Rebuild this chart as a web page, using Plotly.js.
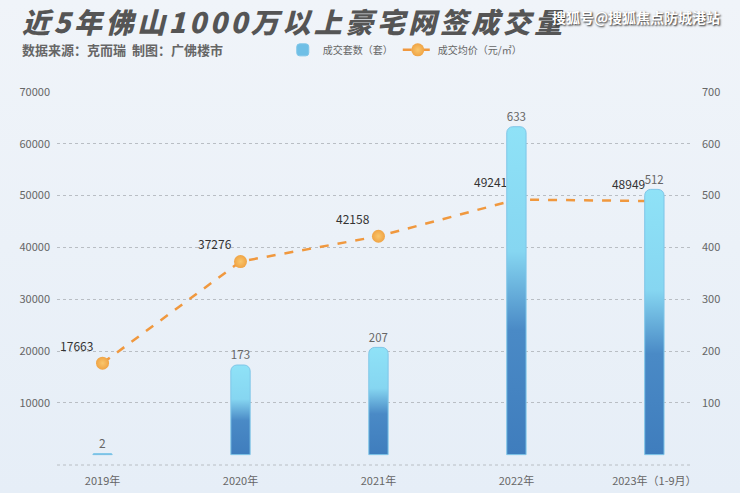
<!DOCTYPE html>
<html>
<head>
<meta charset="utf-8">
<script src="https://cdn.plot.ly/plotly-3.0.1.min.js"></script>
<style>
html,body{margin:0;padding:0;background:#eaf1f8;}
#chart{width:740px;height:493px;}
</style>
</head>
<body>
<div id="chart"></div>
<script>
var categories = ['2019年','2020年','2021年','2022年','2023年（1-9月）'];
var dealCount = [2, 173, 207, 633, 512];
var avgPrice = [17663, 37276, 42158, 49241, 48949];
var leftTicks = [10000,20000,30000,40000,50000,60000,70000];
var rightTicks = [100,200,300,400,500,600,700];

var cjk = '"Noto Sans CJK SC", "Noto Sans", sans-serif';

var barTrace = {
  type:'bar', name:'成交套数（套）', x:categories, y:dealCount, yaxis:'y2',
  width:0.14,
  marker:{color:'#6fbfe6', line:{color:'#7fc6e8', width:1}, cornerradius:6},
  text:dealCount.map(String), textposition:'outside', cliponaxis:false,
  textfont:{family:cjk, size:12, color:'#666'},
  hoverinfo:'x+y'
};
var lineTrace = {
  type:'scatter', mode:'lines+markers+text', name:'成交均价（元/㎡）',
  x:categories, y:avgPrice, yaxis:'y',
  line:{color:'#f0983e', width:2.5, dash:'dash'},
  marker:{size:13, color:'#f0a445', gradient:{type:'radial', color:'#f9c66c'}},
  text:avgPrice.map(String), textposition:'top left', cliponaxis:false,
  textfont:{family:cjk, size:12, color:'#333'}
};

var layout = {
  width:740, height:493,
  margin:{l:57, r:47, t:92, b:28, pad:0},
  paper_bgcolor:'rgba(0,0,0,0)', plot_bgcolor:'rgba(0,0,0,0)',
  font:{family:cjk, color:'#666', size:11},
  showlegend:true,
  legend:{orientation:'h', x:0.355, xanchor:'left', y:1.113, yanchor:'middle',
          font:{family:cjk, size:10, color:'#666'}, bgcolor:'rgba(0,0,0,0)',
          itemwidth:30, traceorder:'normal'},
  xaxis:{type:'category', range:[-0.33, 4.28], showgrid:false, zeroline:false,
         showline:false, ticks:'', ticklabelstandoff:8,
         tickfont:{family:cjk, size:11, color:'#666'}},
  yaxis:{range:[-2000, 70000], tickvals:leftTicks, ticktext:leftTicks.map(String),
         showgrid:true, gridcolor:'#b9bec4', griddash:'dot', gridwidth:1,
         zeroline:false, showline:false, ticks:'', ticklabelstandoff:6,
         tickfont:{family:cjk, size:11, color:'#666'}},
  yaxis2:{range:[-20, 700], overlaying:'y', side:'right', tickvals:rightTicks,
          ticktext:rightTicks.map(String), showgrid:false, zeroline:false,
          showline:false, ticks:'', ticklabelstandoff:8,
          tickfont:{family:cjk, size:11, color:'#666'}},
  shapes:[{type:'line', xref:'paper', yref:'paper', x0:0, x1:1, y0:0, y1:0,
           line:{color:'#b9bec4', width:1, dash:'dot'}}],
  annotations:[
    {xref:'paper', yref:'paper', x:-0.058, y:1.19, xanchor:'left', yanchor:'middle',
     align:'left', showarrow:false, text:'近5年佛山1000万以上豪宅网签成交量',
     font:{family:cjk, size:28, color:'#555', weight:900, style:'italic'}},
    {xref:'paper', yref:'paper', x:-0.058, y:1.113, xanchor:'left', yanchor:'middle',
     showarrow:false, text:'数据来源：克而瑞  制图：广佛楼市',
     font:{family:cjk, size:13, color:'#666', weight:'bold'}},
    {xref:'paper', yref:'paper', x:1.045, y:1.2, xanchor:'right', yanchor:'middle',
     showarrow:false, text:'搜狐号@搜狐焦点防城港站',
     font:{family:cjk, size:14, color:'#ffffff', weight:'bold', shadow:'1px 1px 2px #222'}}
  ]
};

Plotly.newPlot('chart', [barTrace, lineTrace], layout, {displayModeBar:false, staticPlot:true}).then(function(gd){
  var svg = gd.querySelector('svg.main-svg');
  var ns = 'http://www.w3.org/2000/svg';
  var defs = svg.querySelector('defs') || svg.insertBefore(document.createElementNS(ns,'defs'), svg.firstChild);
  var g = document.createElementNS(ns,'linearGradient');
  g.setAttribute('id','barGrad'); g.setAttribute('x1','0'); g.setAttribute('y1','0');
  g.setAttribute('x2','0'); g.setAttribute('y2','1');
  [['0','#8fe2f7'],['0.38','#86d6f1'],['0.62','#4a8ac6'],['1','#3f7dbd']].forEach(function(s){
    var st = document.createElementNS(ns,'stop');
    st.setAttribute('offset', s[0]); st.setAttribute('stop-color', s[1]);
    g.appendChild(st);
  });
  defs.appendChild(g);
  gd.querySelectorAll('.bars .point path').forEach(function(p){
    p.style.fill = 'url(#barGrad)';
  });
  var ann = gd.querySelectorAll('.annotation-text');
  if (ann[0]) { ann[0].style.letterSpacing = '3.5px'; }
  document.body.style.background = 'linear-gradient(#f0f4f9, #e6eef7)';
});
</script>
</body>
</html>
